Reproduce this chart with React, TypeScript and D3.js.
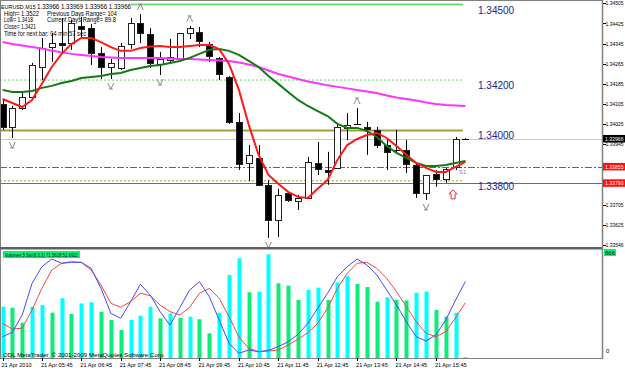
import React from 'react';
import * as d3 from 'd3';

// ---------- DATA ----------
const opens = [1.34105,1.34014,1.34089,1.34133,1.34252,1.34331,1.34347,1.34347,1.34415,1.34407,1.34308,1.34252,1.34248,1.34343,1.34427,1.34383,1.34264,1.34280,1.34284,1.34387,1.34391,1.34343,1.34288,1.34212,1.34034,1.33871,1.33891,1.33784,1.33645,1.33752,1.33720,1.33732,1.33871,1.33843,1.33851,1.34010,1.34024,1.34014,1.34002,1.33942,1.33923,1.33923,1.33863,1.33752,1.33827,1.33807,1.33855,1.33966];
const highs = [1.34121,1.34097,1.34153,1.34268,1.34367,1.34387,1.34447,1.34439,1.34451,1.34423,1.34331,1.34284,1.34347,1.34447,1.34462,1.34407,1.34312,1.34363,1.34387,1.34415,1.34411,1.34351,1.34292,1.34216,1.34069,1.33942,1.33942,1.33803,1.33768,1.33756,1.33744,1.33895,1.33954,1.33915,1.34030,1.34069,1.34089,1.34034,1.34014,1.33970,1.34002,1.33962,1.33871,1.33823,1.33843,1.33851,1.33974,1.33969];
const lows = [1.34002,1.33970,1.34081,1.34133,1.34200,1.34272,1.34312,1.34320,1.34371,1.34260,1.34204,1.34204,1.34240,1.34324,1.34347,1.34248,1.34220,1.34268,1.34280,1.34363,1.34331,1.34272,1.34200,1.34026,1.33843,1.33799,1.33784,1.33573,1.33577,1.33716,1.33684,1.33732,1.33823,1.33784,1.33851,1.33962,1.34022,1.33903,1.33930,1.33843,1.33911,1.33831,1.33732,1.33724,1.33776,1.33792,1.33843,1.33966];
const closes = [1.34014,1.34089,1.34133,1.34260,1.34327,1.34347,1.34339,1.34427,1.34403,1.34308,1.34252,1.34268,1.34335,1.34427,1.34387,1.34268,1.34284,1.34292,1.34387,1.34407,1.34355,1.34296,1.34224,1.34034,1.33867,1.33903,1.33784,1.33645,1.33744,1.33724,1.33732,1.33875,1.33847,1.33835,1.34014,1.34022,1.34026,1.34006,1.33942,1.33915,1.33923,1.33867,1.33752,1.33823,1.33807,1.33847,1.33966,1.33966];

const maFast = [1.34125,1.34109,1.34093,1.34121,1.34185,1.34252,1.34304,1.34343,1.34367,1.34367,1.34351,1.34331,1.34316,1.34316,1.34327,1.34333,1.34335,1.34331,1.34331,1.34335,1.34339,1.34339,1.34323,1.34264,1.34161,1.34022,1.33903,1.33823,1.33788,1.33756,1.33736,1.33732,1.33768,1.33803,1.33883,1.33942,1.33966,1.33982,1.33990,1.33970,1.33938,1.33903,1.33871,1.33851,1.33835,1.33835,1.33855,1.33875];
const maMid = [1.34161,1.34153,1.34153,1.34157,1.34169,1.34177,1.34188,1.34196,1.34208,1.34212,1.34216,1.34224,1.34228,1.34240,1.34248,1.34256,1.34260,1.34268,1.34276,1.34288,1.34304,1.34320,1.34323,1.34316,1.34300,1.34276,1.34252,1.34216,1.34185,1.34153,1.34121,1.34097,1.34077,1.34057,1.34026,1.34010,1.34010,1.33998,1.33974,1.33938,1.33911,1.33891,1.33871,1.33859,1.33859,1.33863,1.33871,1.33879];
const maSlow = [1.34351,1.34343,1.34337,1.34331,1.34325,1.34317,1.34310,1.34304,1.34300,1.34296,1.34292,1.34290,1.34288,1.34288,1.34288,1.34288,1.34288,1.34286,1.34284,1.34284,1.34282,1.34280,1.34278,1.34276,1.34270,1.34262,1.34252,1.34238,1.34224,1.34214,1.34204,1.34194,1.34187,1.34179,1.34173,1.34167,1.34161,1.34155,1.34149,1.34139,1.34131,1.34125,1.34119,1.34111,1.34105,1.34101,1.34099,1.34097];

const volumes = [319,313,220,319,330,282,372,274,340,347,288,237,174,237,263,319,247,278,251,257,241,154,282,517,621,409,413,645,465,450,361,423,438,361,471,510,461,442,350,378,361,359,406,413,299,257,282,4];
const stochMain = [19.9,24.0,40.2,69.8,85.3,92.5,88.5,89.4,89.4,83.8,65.1,41.8,37.1,52.6,68.9,58.9,43.3,30.8,47.0,63.6,71.3,57.3,35.5,13.7,4.4,7.5,5.9,7.2,10.6,15.2,22.1,32.4,46.4,60.5,76.0,85.3,92.5,86.9,77.6,63.6,49.5,33.9,19.9,15.9,21.5,35.5,54.2,71.56];
const stochSignal = [32.4,27.1,27.8,44.9,65.1,82.2,88.5,90.0,89.4,82.2,68.2,51.1,47.4,52.6,60.5,58.2,49.5,43.3,40.2,47.4,60.5,65.1,55.8,38.6,19.6,9.1,5.9,6.5,7.5,12.1,17.5,23.6,32.4,46.4,65.1,79.2,88.5,89.4,83.8,74.5,62.0,47.9,33.9,23.1,19.9,24.6,37.7,51.69];

const upFractals = [14, 19, 36];
const downFractals = [1, 11, 16, 27, 43];
const signalBar = 46;
const signalPrice = 1.33744;

const levelValues = [1.345, 1.342, 1.340, 1.338];
const levelLabels = ['1.34500', '1.34200', '1.34000', '1.33800'];
const bidPrice = 1.33966;
const redLevels = [1.33855, 1.33790];
const redLevelLabels = ['1.33855', '1.33790'];

const priceTicks = [1.34505,1.34425,1.34345,1.34265,1.34185,1.34105,1.34025,1.33945,1.33865,1.33785,1.33705,1.33625,1.33546];
const timeLabelBars = [0,4,8,12,16,20,24,28,32,36,40,44];
const timeLabels = ['21 Apr 2010','21 Apr 05:45','21 Apr 06:45','21 Apr 07:45','21 Apr 08:45','21 Apr 09:45','21 Apr 10:45','21 Apr 11:45','21 Apr 12:45','21 Apr 13:45','21 Apr 14:45','21 Apr 15:45'];

const volMax = 666;

// ---------- LAYOUT ----------
const W = 625, H = 370;
const axisX = 603;
const mainBottom = 247;
const subTop = 251, subBottom = 358;
const FONT = "'Liberation Sans', Arial, sans-serif";

export default function App() {
  const n = opens.length;
  const x = d3.scaleLinear().domain([0, n - 1]).range([2.5, 2.5 + 9.85 * (n - 1)]);
  const y = d3.scaleLinear().domain([1.33537, 1.34518]).range([mainBottom, 0]);
  const yVol = d3.scaleLinear().domain([0, volMax]).range([subBottom, subTop]);
  const ySto = d3.scaleLinear().domain([0, 100]).range([subBottom, subTop]);

  const maLine = d3.line<number>().x((_, i) => x(i)).y(d => y(d));
  const stoLine = d3.line<number>().x((_, i) => x(i)).y(d => ySto(d));
  const lineEnd = 463;

  const levelStyles = [
    { stroke: '#70e070', width: 2, dash: undefined, x1: 131 },
    { stroke: '#5cdc5c', width: 1, dash: '2,2', x1: 0 },
    { stroke: '#a3a03c', width: 2, dash: undefined, x1: 0 },
    { stroke: '#a8a444', width: 1, dash: '2,2', x1: 0 },
  ];

  const upPath = (cx: number, cy: number) => `M${cx - 3},${cy + 3}L${cx},${cy - 3}L${cx + 3},${cy + 3}M${cx - 2},${cy - 3}L${cx + 2},${cy - 3}`;
  const downPath = (cx: number, cy: number) => `M${cx - 3},${cy - 3}L${cx},${cy + 3}L${cx + 3},${cy - 3}M${cx - 2},${cy + 3}L${cx + 2},${cy + 3}`;

  const sx = x(signalBar) - 2.5, sy = y(signalPrice);
  const arrowPath = `M${sx},${sy - 5}L${sx + 4},${sy - 1}L${sx + 2},${sy - 1}L${sx + 2},${sy + 4}L${sx - 2},${sy + 4}L${sx - 2},${sy - 1}L${sx - 4},${sy - 1}Z`;

  // tick labels hidden under the red price boxes are not drawn
  const hiddenByRed = (t: number) => redLevels.some(r => Math.abs(y(r) - y(t)) < 3);

  return (
    <div style={{ position: 'fixed', left: 0, top: 0, width: W, height: H, background: '#fff' }}>
      <svg width={W} height={H} style={{ display: 'block' }} fontFamily={FONT}>
        <rect x={0} y={0} width={W} height={H} fill="#fff" />

        {/* level lines */}
        {levelValues.map((v, i) => (
          <line key={'lv' + i} x1={levelStyles[i].x1} x2={lineEnd} y1={y(v)} y2={y(v)}
            stroke={levelStyles[i].stroke} strokeWidth={levelStyles[i].width} strokeDasharray={levelStyles[i].dash} />
        ))}
        <line x1={0} x2={axisX} y1={Math.round(y(bidPrice)) + 0.5} y2={Math.round(y(bidPrice)) + 0.5} stroke="#c8c8c8" />
        <line x1={0} x2={axisX} y1={Math.round(y(redLevels[0])) + 0.5} y2={Math.round(y(redLevels[0])) + 0.5} stroke="#c83c3c" strokeDasharray="7,2,2,2" />
        <line x1={0} x2={axisX} y1={Math.round(y(redLevels[1])) + 0.5} y2={Math.round(y(redLevels[1])) + 0.5} stroke="#d04444" />

        {levelValues.map((v, i) => (
          <text key={'ll' + i} x={478} y={y(v) + 9} fontSize={10} fill="#22228a">{levelLabels[i]}</text>
        ))}

        {/* candles */}
        {opens.map((o, i) => {
          const cx = Math.round(x(i));
          const c = closes[i];
          const yo = Math.round(y(o)), yc = Math.round(y(c));
          const top = Math.min(yo, yc), bot = Math.max(yo, yc);
          const bull = c >= o;
          return (
            <g key={'c' + i}>
              <line x1={cx + 0.5} x2={cx + 0.5} y1={y(highs[i])} y2={y(lows[i])} stroke="#000" />
              {bot - top < 1 ? (
                <line x1={cx - 3} x2={cx + 4} y1={top + 0.5} y2={top + 0.5} stroke="#000" />
              ) : (
                <rect x={cx - 2.5} y={top + 0.5} width={6} height={bot - top} fill={bull ? '#fff' : '#000'} stroke="#222" />
              )}
            </g>
          );
        })}

        {/* moving averages */}
        <path d={maLine(maSlow) || ''} fill="none" stroke="#ff33ff" strokeWidth={2} />
        <path d={maLine(maMid) || ''} fill="none" stroke="#127a12" strokeWidth={2} />
        <path d={maLine(maFast) || ''} fill="none" stroke="#ff1a1a" strokeWidth={2} />

        {/* fractals */}
        {upFractals.map(i => (
          <path key={'uf' + i} d={upPath(x(i), y(highs[i]) - 7)} fill="none" stroke="#8a8a8a" />
        ))}
        {downFractals.map(i => (
          <path key={'df' + i} d={downPath(x(i), y(lows[i]) + 7)} fill="none" stroke="#8a8a8a" />
        ))}

        {/* signal arrow */}
        <path d={arrowPath} fill="#fff" stroke="#e83030" />
        <text x={459} y={174} fontSize={6} fill="#8a8a8a">S1</text>

        {/* header text */}
        <g fontSize={6.3} fill="#000">
          <text x={1} y={8.5} fontSize={5.4}>EURUSD,M15</text>
          <text x={37} y={8.5} textLength={94} lengthAdjust="spacingAndGlyphs">1.33966 1.33969 1.33966 1.33966</text>
          <text x={4} y={15.5} textLength={35} lengthAdjust="spacingAndGlyphs">High= 1.3522</text>
          <text x={47} y={15.5} textLength={70} lengthAdjust="spacingAndGlyphs">Previous Days Range= 104</text>
          <text x={4} y={22} textLength={29} lengthAdjust="spacingAndGlyphs">Low= 1.3418</text>
          <text x={47} y={22} textLength={69} lengthAdjust="spacingAndGlyphs">Current Days Range= 89.8</text>
          <text x={4} y={28.5} textLength={32} lengthAdjust="spacingAndGlyphs">Close= 1.3421</text>
          <text x={4} y={35.5} textLength={82} lengthAdjust="spacingAndGlyphs">Time for next bar: 04 min 57 sec</text>
        </g>

        {/* sub panel: volumes */}
        {volumes.map((v, i) => {
          const up = i === 0 || v > volumes[i - 1];
          const cx = Math.round(x(i));
          return (
            <rect key={'v' + i} x={cx - 1.5} y={yVol(v)} width={4} height={subBottom - yVol(v)}
              fill={up ? '#00ffff' : '#0cec78'} />
          );
        })}
        <path d={stoLine(stochSignal) || ''} fill="none" stroke="#f04848" strokeWidth={1} />
        <path d={stoLine(stochMain) || ''} fill="none" stroke="#4848ff" strokeWidth={1} />

        <rect x={3} y={251} width={77} height={7} fill="#00f57a" />
        <text x={5} y={257} fontSize={6} fill="#000" textLength={73} lengthAdjust="spacingAndGlyphs">Volumes 5  Sto(8,3,3) 71.5618 51.6922</text>
        <text x={3} y={356.5} fontSize={6} fill="#000" textLength={162} lengthAdjust="spacingAndGlyphs">ODL MetaTrader, © 2001-2009 MetaQuotes Software Corp.</text>

        {/* frame */}
        <line x1={0} x2={axisX} y1={0.5} y2={0.5} stroke="#808080" />
        <line x1={0.5} x2={0.5} y1={0} y2={subBottom} stroke="#808080" />
        <rect x={0} y={mainBottom} width={axisX} height={2.5} fill="#606060" />
        <line x1={0} x2={axisX} y1={subBottom + 0.5} y2={subBottom + 0.5} stroke="#808080" />
        <line x1={axisX - 0.5} x2={axisX - 0.5} y1={0} y2={subBottom + 1} stroke="#808080" strokeWidth={1.5} />

        {/* price axis */}
        {priceTicks.map((t, i) => (
          <g key={'pt' + i}>
            <line x1={axisX} x2={axisX + 3} y1={Math.round(y(t)) + 0.5} y2={Math.round(y(t)) + 0.5} stroke="#000" />
            {!hiddenByRed(t) && (
              <text x={605.5} y={Math.min(y(t) + 2.2, 246.5)} fontSize={5.6} fill="#000" textLength={18} lengthAdjust="spacingAndGlyphs">{t.toFixed(5)}</text>
            )}
          </g>
        ))}
        <rect x={axisX} y={y(bidPrice) - 4} width={W - axisX} height={7.5} fill="#000" />
        <text x={605} y={y(bidPrice) + 2.2} fontSize={5.6} fill="#fff" textLength={18.5} lengthAdjust="spacingAndGlyphs">{bidPrice.toFixed(5)}</text>
        {redLevels.map((v, i) => (
          <g key={'rl' + i}>
            <rect x={axisX} y={y(v) - 4} width={W - axisX} height={7.5} fill="#ff1010" />
            <text x={605} y={y(v) + 2.2} fontSize={5.6} fill="#fff" textLength={18.5} lengthAdjust="spacingAndGlyphs">{redLevelLabels[i]}</text>
          </g>
        ))}

        {/* sub panel axis */}
        <rect x={axisX + 1} y={249} width={12} height={7} fill="#00f57a" />
        <text x={605} y={255} fontSize={6} fill="#000">{String(volMax)}</text>
        <text x={606} y={353} fontSize={6} fill="#000">0</text>

        {/* time axis */}
        {timeLabelBars.map((b, i) => (
          <g key={'tl' + i}>
            <line x1={Math.round(x(b)) + 0.5} x2={Math.round(x(b)) + 0.5} y1={subBottom} y2={subBottom + 3} stroke="#000" />
            <text x={x(b) - 1} y={366.5} fontSize={5.6} fill="#000">{timeLabels[i]}</text>
          </g>
        ))}
      </svg>
    </div>
  );
}
